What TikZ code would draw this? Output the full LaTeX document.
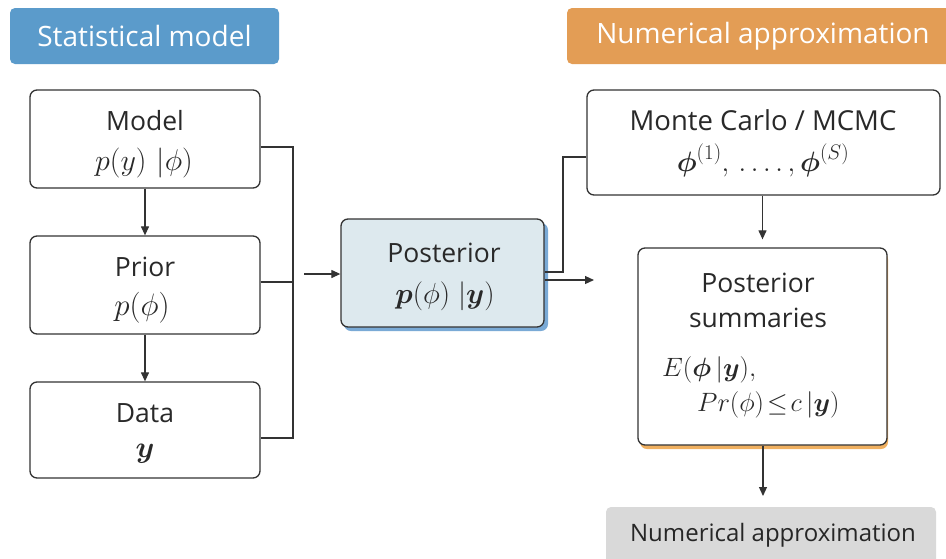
\RequirePackage{fix-cm}
\documentclass[tikz,border=0pt]{standalone}
\usepackage{amsmath}
\usepackage{fontspec}
\setmainfont{Open Sans}
\usetikzlibrary{arrows.meta}
\definecolor{hblue}{HTML}{5B9BCB}
\definecolor{horange}{HTML}{E39D55}
\definecolor{lnc}{HTML}{333333}
\definecolor{postfill}{HTML}{DDE9EE}
\definecolor{shblue}{HTML}{7AAAD6}
\definecolor{shorange}{HTML}{F0B060}
\definecolor{greybox}{HTML}{D9D9D9}
\newcommand{\MS}[2]{\fontsize{#1}{#1}\selectfont$#2$}
\newcommand{\SupS}[1]{\mbox{\fontsize{21}{21}\selectfont$#1$}}
\tikzset{
  box/.style={draw=lnc, line width=1.3pt, rounded corners=7pt, fill=white, inner sep=0pt},
  header/.style={rounded corners=5pt, text=white, inner sep=0pt, font=\fontsize{28}{32}\selectfont},
  conn/.style={draw=lnc, line width=1.2pt},
  arr/.style={conn, -{Triangle[length=9pt,width=8pt]}},
  txt/.style={inner sep=0pt, font=\fontsize{26.5}{32}\selectfont, text=lnc!80!black}
}
\begin{document}
\begin{tikzpicture}[x=1pt,y=-1pt]
\useasboundingbox (0,0) rectangle (946,558);
\clip (0,0) rectangle (946,558);
\fill[white] (0,0) rectangle (946,558);
% headers
\node[header, fill=hblue, minimum width=269pt, minimum height=56pt] (hstat) at (144.5,36) {Statistical model};
\node[header, fill=horange, minimum width=392pt, minimum height=56pt] (hnum) at (763,36) {Numerical approximation};
% left column
\node[box, minimum width=230pt, minimum height=98pt] (model) at (145,139) {};
\node[txt] (modelt) at (145,121) {Model};
\node[txt] (modelm) at (144,163) {\MS{30}{p(y)\mkern6mu|\phi)}};
\node[box, minimum width=230pt, minimum height=98pt] (prior) at (145,285) {};
\node[txt] (priort) at (145,267) {Prior};
\node[txt] (priorm) at (142,308) {\MS{31}{p(\phi)}};
\node[box, minimum width=230pt, minimum height=96pt] (data) at (145,430) {};
\node[txt] (datat) at (145,413) {Data};
\node[txt] (datam) at (145,454) {\MS{30}{\boldsymbol{y}}};
\draw[arr] (model.south) -- (prior.north);
\draw[arr] (prior.south) -- (data.north);
% bracket
\coordinate (jt) at (293,147);
\coordinate (jm) at (293,282);
\coordinate (jb) at (293,438);
\coordinate (as) at (304,274);
\draw[conn] (model.east |- jt) -- (jt) -- (jb) -- (data.east |- jb);
\draw[conn] (prior.east |- jm) -- (jm);
% posterior
\fill[shblue, rounded corners=7pt] (344,223) rectangle (548,331);
\node[box, fill=postfill, minimum width=203pt, minimum height=108pt] (post) at (442.5,273) {};
\node[txt] (postt) at (444,253) {Posterior};
\node[txt] (postm) at (445,296) {\MS{29}{\boldsymbol{p}(\phi)\mkern5mu|\boldsymbol{y})}};
\draw[arr] (as) -- (post.west |- as);
% right
\node[box, minimum width=353pt, minimum height=105pt] (mc) at (763.5,142.5) {};
\node[txt, font=\fontsize{27.5}{32}\selectfont] (mct) at (763,120) {Monte Carlo / MCMC};
\node[txt] (mcm) at (763,160) {\MS{28}{\boldsymbol{\phi}^{\SupS{(1)}},\mkern3mu.\mkern3mu.\mkern3mu.\mkern3mu.\mkern3mu,\boldsymbol{\phi}^{\SupS{(S)}}}};
\coordinate (k1) at (563,272);
\coordinate (k2) at (563,157);
\coordinate (pa) at (594,280);
\draw[conn] (post.east |- k1) -- (k1) -- (k2) -- (mc.west |- k2);
\draw[arr] (post.east |- pa) -- (pa);
\fill[shorange, rounded corners=7pt] (640,252) rectangle (888,449);
\node[box, minimum width=249pt, minimum height=197pt] (summ) at (762.5,346.5) {};
\node[txt] (st1) at (758,283) {Posterior};
\node[txt] (st2) at (758,318) {summaries};
\node[txt, anchor=west] (st3) at (662,370) {\MS{26.5}{E(\boldsymbol{\phi}\,|\boldsymbol{y}),}};
\node[txt, anchor=west] (st4) at (697,405) {\MS{26.5}{Pr(\phi)\mkern2mu\mathord{\leq}\mkern2mu c\,|\boldsymbol{y})}};
\draw[arr, shorten >=8pt] (mc.south -| summ.north) -- (summ.north);
\coordinate (bo) at (763,496);
\draw[arr] (summ.south -| bo) -- (bo);
\node[fill=greybox, rounded corners=5pt, minimum width=330pt, minimum height=62pt, inner sep=0pt] (bottom) at (771,538) {};
\node[txt, text=black!85, font=\fontsize{24}{28}\selectfont] (btxt) at (773,535) {Numerical approximation};
\end{tikzpicture}
\end{document}
